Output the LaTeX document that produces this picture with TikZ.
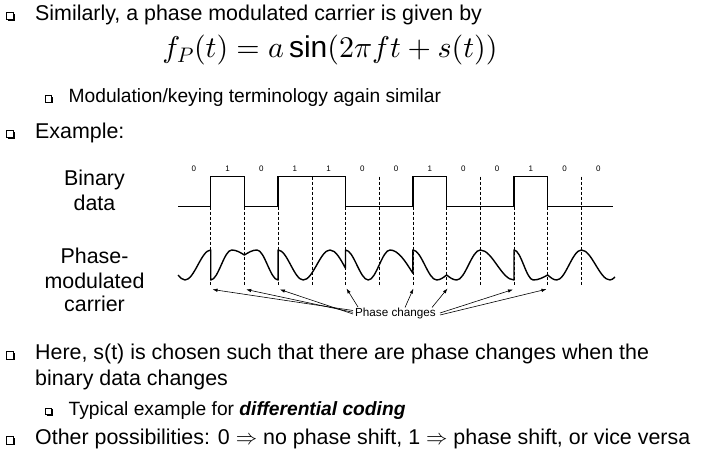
\documentclass[tikz,border=0pt]{standalone}
\DeclareFontShape{OML}{cmm}{m}{it}{<->cmmi10}{}
\DeclareFontShape{OMS}{cmsy}{m}{n}{<->cmsy10}{}
\DeclareFontShape{OMX}{cmex}{m}{n}{<->cmex10}{}
\DeclareFontShape{OT1}{cmr}{m}{n}{<->cmr10}{}
\usepackage{fontspec}
\setmainfont{Liberation Sans}
\usetikzlibrary{arrows.meta}
\begin{document}
\begin{tikzpicture}[x=1pt,y=-1pt,
  txt/.style={anchor=base west, inner sep=0pt, font=\fontsize{21.4}{26}\selectfont},
  subtxt/.style={anchor=base west, inner sep=0pt, font=\fontsize{19.2}{23}\selectfont},
  lbl/.style={anchor=base, inner sep=0pt, font=\fontsize{21.4}{26}\selectfont},
  bit/.style={inner sep=0pt, font=\fontsize{8}{9}\selectfont},
  sig/.style={line width=1.4pt, line join=miter},
  carrier/.style={line width=1.4pt, line join=round},
  guide/.style={line width=0.6pt, dash pattern=on 3pt off 2pt},
  pcarrow/.style={line width=0.6pt, -{Latex[length=5pt,width=3.5pt]}},
  bigbox/.pic={\draw[line width=0.6pt] (0,0) rectangle (7.2,7.2);
               \draw[line width=1.2pt] (1.3,7.9) -- (7.9,7.9) -- (7.9,1.3);},
  smallbox/.pic={\draw[line width=0.5pt] (0,0) rectangle (6.2,6.2);
               \draw[line width=1.1pt] (1.1,6.8) -- (6.8,6.8) -- (6.8,1.1);},
]
\useasboundingbox[fill=white] (0,0) rectangle (702,454);

% bullet lines
\pic at (6.5,12.6) {bigbox};
\node[txt] (l1) at (35,20.4) {Similarly, a phase modulated carrier is given by};
\node[anchor=base, inner sep=0pt, font=\fontsize{30}{36}\selectfont] (eq) at (330,58)
  {$f_P(t) = a\,\mbox{sin}(2\pi f t + s(t))$};
\pic at (45.5,95.6) {smallbox};
\node[subtxt] (l2) at (68.5,102.5) {Modulation/keying terminology again similar};
\pic at (6.5,130.4) {bigbox};
\node[txt] (l3) at (35,138.2) {Example:};

\pic at (6.5,351.7) {bigbox};
\node[txt] (l4) at (35,359.5) {Here, s(t) is chosen such that there are phase changes when the};
\node[txt] (l5) at (35,385.5) {binary data changes};
\pic at (45.5,408.4) {smallbox};
\node[subtxt] (l6) at (68.5,415.3) {Typical example for \textbf{\textit{differential coding}}};
\pic at (6.5,436.7) {bigbox};
\node[txt] (l7) at (35,444.5) {Other possibilities: 0 $\Rightarrow$ no phase shift, 1 $\Rightarrow$ phase shift, or vice versa};

% side labels
\node[lbl] (bd1) at (94.5,185.5) {Binary};
\node[lbl] (bd2) at (94.5,210.8) {data};
\node[lbl] (pm1) at (94.5,263.5) {Phase-};
\node[lbl] (pm2) at (94.5,289) {modulated};
\node[lbl] (pm3) at (94.5,312) {carrier};

% bit labels
\foreach \v [count=\i] in {0,1,0,1,1,0,0,1,0,0,1,0,0}
  \node[bit] (d\i) at ({177+33.7*(\i-0.5)},168.3) {\v};

% guide lines
\foreach \k in {1,...,12}
  \draw[guide] ({177+33.7*\k},176.7) -- ({177+33.7*\k},286);

% binary data signal
\draw[sig] (178,206.7) -- (210.7,206.7) -- (210.7,176.7) -- (244.4,176.7) -- (244.4,206.7)
  -- (278.1,206.7) -- (278.1,176.7) -- (345.5,176.7) -- (345.5,206.7) -- (412.9,206.7)
  -- (412.9,176.7) -- (446.6,176.7) -- (446.6,206.7) -- (514,206.7) -- (514,176.7)
  -- (547.7,176.7) -- (547.7,206.7) -- (613,206.7);

% phase modulated carrier
\draw[carrier] (178,275) sin (185,280) cos (197.85,265) sin (210.7,250) -- (210.7,280)
  cos (221.2,265) sin (231.7,250) cos (244.4,255) sin (257,250) cos (267.5,265) sin (278.1,280) -- (278.1,250)
  cos (290.7,265) sin (303.3,280) cos (316.7,265) sin (330,250) cos (345.5,268.3) -- (345.5,250)
  cos (356.9,265) sin (368.3,280) cos (379.2,265) sin (390,250) cos (412.9,273.3) -- (412.9,250)
  cos (424.8,265) sin (436.7,280) cos (446.6,275) sin (456.7,280) cos (468.5,265) sin (480.3,250) cos (497,265) sin (514,280) -- (514,250)
  cos (523.7,265) sin (533.3,280) cos (547.7,275) sin (556.7,280) cos (569,265) sin (581.4,250) cos (595.7,265) sin (610,280) cos (615,277);

% phase change label and arrows
\node[anchor=base, inner sep=0pt, font=\fontsize{11.7}{13}\selectfont] (pc) at (395.5,317) {Phase changes};
\coordinate (s1) at (353,310.5);  \coordinate (e1) at (212.5,289.5);
\coordinate (s2) at (353,312.3);  \coordinate (e2) at (246.2,289.5);
\coordinate (s3) at (353,314);    \coordinate (e3) at (279.9,289.5);
\coordinate (s4) at (358,307);    \coordinate (e4) at (346.5,288.5);
\coordinate (s5) at (405,307.5);  \coordinate (e5) at (413.4,288.5);
\coordinate (s6) at (432,307.5);  \coordinate (e6) at (447.5,288.5);
\coordinate (s7) at (440,313);    \coordinate (e7) at (513,289.5);
\coordinate (s8) at (440,315);    \coordinate (e8) at (546.5,289.2);
\foreach \i in {1,...,8} \draw[pcarrow] (s\i) -- (e\i);
\end{tikzpicture}
\end{document}
